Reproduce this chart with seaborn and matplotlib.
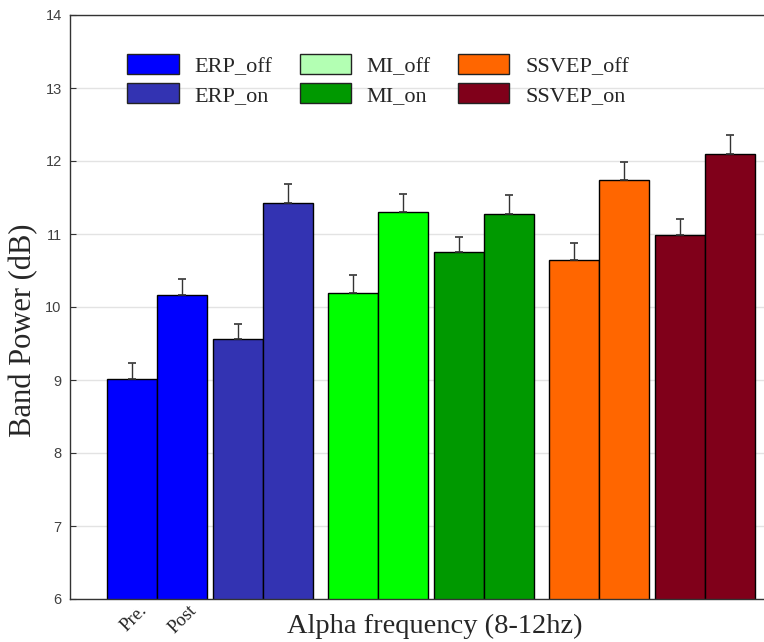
import matplotlib
matplotlib.use("Agg")
import matplotlib.pyplot as plt
from matplotlib.patches import Patch
import seaborn as sns
import pandas as pd
import numpy as np

# condition names, one pair (Pre./Post) of bars each
conditions = ["ERP_off", "ERP_on", "MI_off", "MI_on", "SSVEP_off", "SSVEP_on"]
pre_vals = [9.02, 9.56, 10.19, 10.75, 10.64, 10.99]
post_vals = [10.16, 11.42, 11.30, 11.27, 11.74, 12.10]
pre_err = [0.21, 0.21, 0.25, 0.21, 0.24, 0.21]
post_err = [0.22, 0.27, 0.25, 0.27, 0.25, 0.26]
bar_colors = ["#0000FF", "#3333B2", "#00FF00", "#009900", "#FF6600", "#80001A"]
legend_colors = ["#0000FF", "#3333B2", "#B3FFB3", "#009900", "#FF6600", "#80001A"]
tick_labels = ["Pre.", "Post"]


def main():
    sns.set_style("ticks")
    plt.rcParams["font.family"] = ["Liberation Sans", "DejaVu Sans"]

    # bar slots: pairs touch, small gap between pairs, bigger gap per modality
    pair_starts = [0.0, 2.12, 4.42, 6.54, 8.84, 10.96]
    rows = []
    for i, c in enumerate(conditions):
        rows.append({"pos": pair_starts[i], "val": pre_vals[i], "err": pre_err[i], "cond": c})
        rows.append({"pos": pair_starts[i] + 1, "val": post_vals[i], "err": post_err[i], "cond": c})
    df = pd.DataFrame(rows)

    fig = plt.figure(figsize=(7.64, 6.42), dpi=100)
    ax = fig.add_axes([70 / 764, 43 / 642, 694 / 764, 584 / 642])

    sns.barplot(data=df, x="pos", y="val", hue="cond", native_scale=True,
                palette=dict(zip(conditions, bar_colors)), dodge=False,
                width=1.0, errorbar=None, edgecolor="black", linewidth=1.0,
                saturation=1, legend=False, ax=ax, zorder=2)
    ax.errorbar(df["pos"], df["val"], yerr=[np.zeros(len(df)), df["err"]],
                fmt="none", ecolor="#333333", elinewidth=1.0, capsize=3,
                capthick=1.2, zorder=3)

    ax.set_ylim(6, 14)
    ax.set_xlim(-1.24, 12.64)
    ax.set_yticks(range(6, 15))
    ax.yaxis.grid(True, color="#e3e3e3", linewidth=1.0, zorder=0)
    ax.set_axisbelow(True)
    # labels sit a bit right of the bar centres, as in the original
    ax.set_xticks([0.12, 1.12])
    ax.set_xticklabels(tick_labels, rotation=45, ha="right", rotation_mode="anchor",
                       family=["Liberation Serif"], fontsize=13.5)
    ax.tick_params(axis="x", length=0, pad=2)
    ax.tick_params(axis="y", direction="in", length=4, labelsize=10.5,
                   labelcolor="#404040", color="#333333", width=0.8, pad=6)
    for s in ["left", "bottom", "top"]:
        ax.spines[s].set_color("#333333")
        ax.spines[s].set_linewidth(1.0)
    ax.spines["right"].set_visible(False)

    ax.set_ylabel("Band Power (dB)", family=["Liberation Serif"], fontsize=22)
    ax.yaxis.set_label_coords(-0.046, 0.461)
    ax.set_xlabel("Alpha frequency (8-12hz)", family=["Liberation Serif"], fontsize=20.5)
    ax.xaxis.set_label_coords(0.526, -0.025)
    ax.xaxis.label.set_va("top")

    handles = [Patch(facecolor=c, edgecolor="#222222", linewidth=1.0) for c in legend_colors]
    ax.legend(handles, conditions, ncol=3, frameon=False, loc="upper left",
              bbox_to_anchor=(0.054, 0.967), prop={"family": "Liberation Serif", "size": 16},
              handlelength=2.3, handleheight=1.0, handletextpad=0.7,
              columnspacing=1.25, labelspacing=0.3)

    plt.savefig("out.png", dpi=100)


if __name__ == "__main__":
    main()
